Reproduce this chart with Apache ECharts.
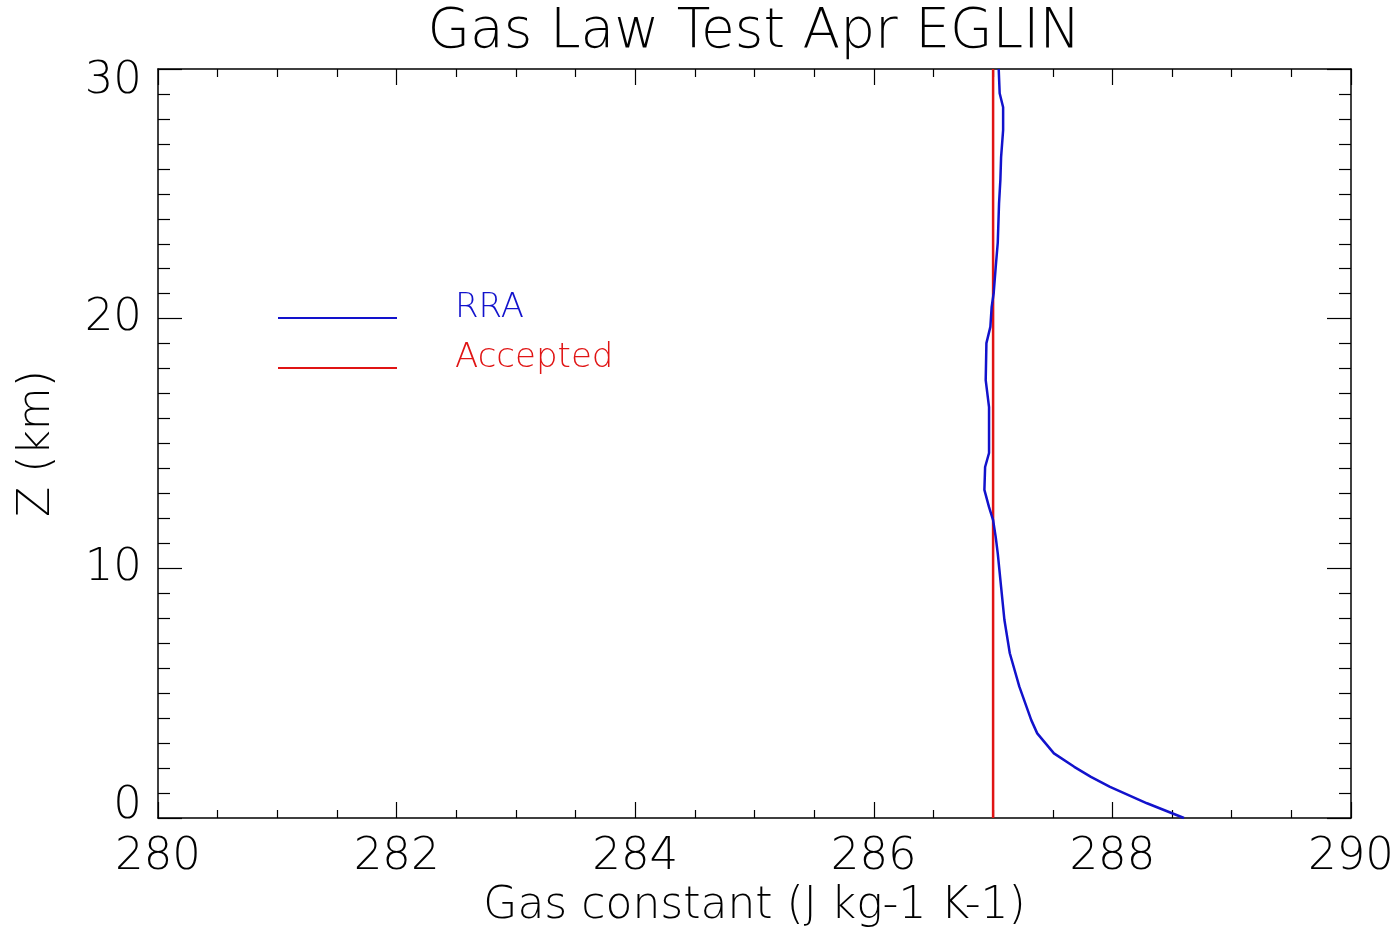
<!DOCTYPE html>
<html>
<head>
<meta charset="utf-8">
<script src="https://cdn.jsdelivr.net/npm/echarts@6/dist/echarts.min.js"></script>
<style>
  html, body { margin: 0; padding: 0; background: #fff; }
  #main { width: 1397px; height: 928px; }
</style>
</head>
<body>
<div id="main"></div>
<script>
// altitude (km) and gas constant
const rraZ = [0.0, 0.59, 1.25, 1.65, 2.05, 2.59, 3.39, 3.92, 5.26, 6.60, 7.93, 9.26, 10.60, 11.25, 11.93, 12.45, 13.14, 14.06, 14.62, 16.46, 17.54, 19.02, 19.67, 20.47, 21.03, 22.07, 23.04, 24.64, 25.56, 26.47, 27.55, 28.47, 29.03, 30.0]
const rraR = [288.60, 288.29, 287.98, 287.82, 287.68, 287.51, 287.37, 287.32, 287.22, 287.14, 287.095, 287.067, 287.039, 287.022, 287.0, 286.966, 286.927, 286.933, 286.966, 286.966, 286.938, 286.944, 286.977, 286.988, 287.005, 287.022, 287.039, 287.05, 287.061, 287.067, 287.084, 287.084, 287.055, 287.047]
// accepted value, dry air
const acceptedZ = [0, 30]
const acceptedR = [287, 287]

const xTicks = { min: 280, max: 290, interval: 2 }
const yTicks = { min: 0, max: 30, interval: 10 }

const blue = '#1212cc'
const red = '#e01414'
const font = 'DejaVu Sans'
const thin = 200

const myChart = echarts.init(document.getElementById('main'))

const pair = (xs, ys) => xs.map((v, i) => [v, ys[i]])

const axisBase = {
  type: 'value',
  axisLine: { show: true, onZero: false, lineStyle: { color: '#000', width: 1.5 } },
  splitLine: { show: false },
  minorSplitLine: { show: false }
}

// legend drawn by hand: short line with the label sitting on it
const legendItem = (y, label, color) => [
  {
    type: 'line',
    shape: { x1: 278, y1: y, x2: 397, y2: y },
    style: { stroke: color, lineWidth: 2 }
  },
  {
    type: 'text',
    x: 455,
    y: y + 7,
    style: { text: label, fill: color, font: '200 34px "DejaVu Sans"', verticalAlign: 'bottom' }
  }
]

myChart.setOption({
  animation: false,
  backgroundColor: '#fff',
  title: {
    text: 'Gas Law Test Apr EGLIN',
    left: 754,
    textAlign: 'center',
    top: 5,
    padding: 0,
    textStyle: { fontFamily: font, fontWeight: thin, fontSize: 55, color: '#000' }
  },
  grid: { left: 158, right: 46, top: 69, bottom: 110, outerBoundsMode: 'none' },
  graphic: legendItem(318, 'RRA', blue).concat(legendItem(368, 'Accepted', red)),
  xAxis: [
    Object.assign({}, axisBase, {
      position: 'bottom',
      min: xTicks.min, max: xTicks.max, interval: xTicks.interval,
      name: 'Gas constant (J kg-1 K-1)',
      nameLocation: 'middle',
      nameGap: 64,
      nameTextStyle: { fontFamily: font, fontWeight: thin, fontSize: 44, color: '#000' },
      axisTick: { inside: true, length: 16, lineStyle: { color: '#000', width: 1.2 } },
      minorTick: { show: true, splitNumber: 4, length: 8, lineStyle: { color: '#000', width: 1.2 } },
      axisLabel: { fontFamily: font, fontWeight: thin, fontSize: 45, color: '#000', margin: 17 }
    }),
    Object.assign({}, axisBase, {
      position: 'top',
      min: xTicks.min, max: xTicks.max, interval: xTicks.interval,
      axisTick: { inside: true, length: 16, lineStyle: { color: '#000', width: 1.2 } },
      minorTick: { show: true, splitNumber: 4, length: 8, lineStyle: { color: '#000', width: 1.2 } },
      axisLabel: { show: false }
    })
  ],
  yAxis: [
    Object.assign({}, axisBase, {
      position: 'left',
      min: yTicks.min, max: yTicks.max, interval: yTicks.interval,
      name: 'Z (km)',
      nameLocation: 'middle',
      nameGap: 98,
      nameTextStyle: { fontFamily: font, fontWeight: thin, fontSize: 44, color: '#000' },
      axisTick: { inside: true, length: 24, lineStyle: { color: '#000', width: 1.2 } },
      minorTick: { show: true, splitNumber: 10, length: 12, lineStyle: { color: '#000', width: 1.2 } },
      axisLabel: {
        fontFamily: font, fontWeight: thin, fontSize: 45, color: '#000', margin: 16, lineHeight: 24,
        verticalAlignMinLabel: 'bottom', verticalAlignMaxLabel: 'top'
      }
    }),
    Object.assign({}, axisBase, {
      position: 'right',
      min: yTicks.min, max: yTicks.max, interval: yTicks.interval,
      axisTick: { inside: true, length: 24, lineStyle: { color: '#000', width: 1.2 } },
      minorTick: { show: true, splitNumber: 10, length: 12, lineStyle: { color: '#000', width: 1.2 } },
      axisLabel: { show: false }
    })
  ],
  series: [
    {
      name: 'RRA',
      type: 'line',
      xAxisIndex: 0,
      yAxisIndex: 0,
      data: pair(rraR, rraZ),
      showSymbol: false,
      lineStyle: { color: blue, width: 2.5 },
      z: 3
    },
    {
      name: 'Accepted',
      type: 'line',
      xAxisIndex: 0,
      yAxisIndex: 0,
      data: pair(acceptedR, acceptedZ),
      showSymbol: false,
      lineStyle: { color: red, width: 2.5 },
      z: 2
    }
  ]
})
</script>
</body>
</html>
